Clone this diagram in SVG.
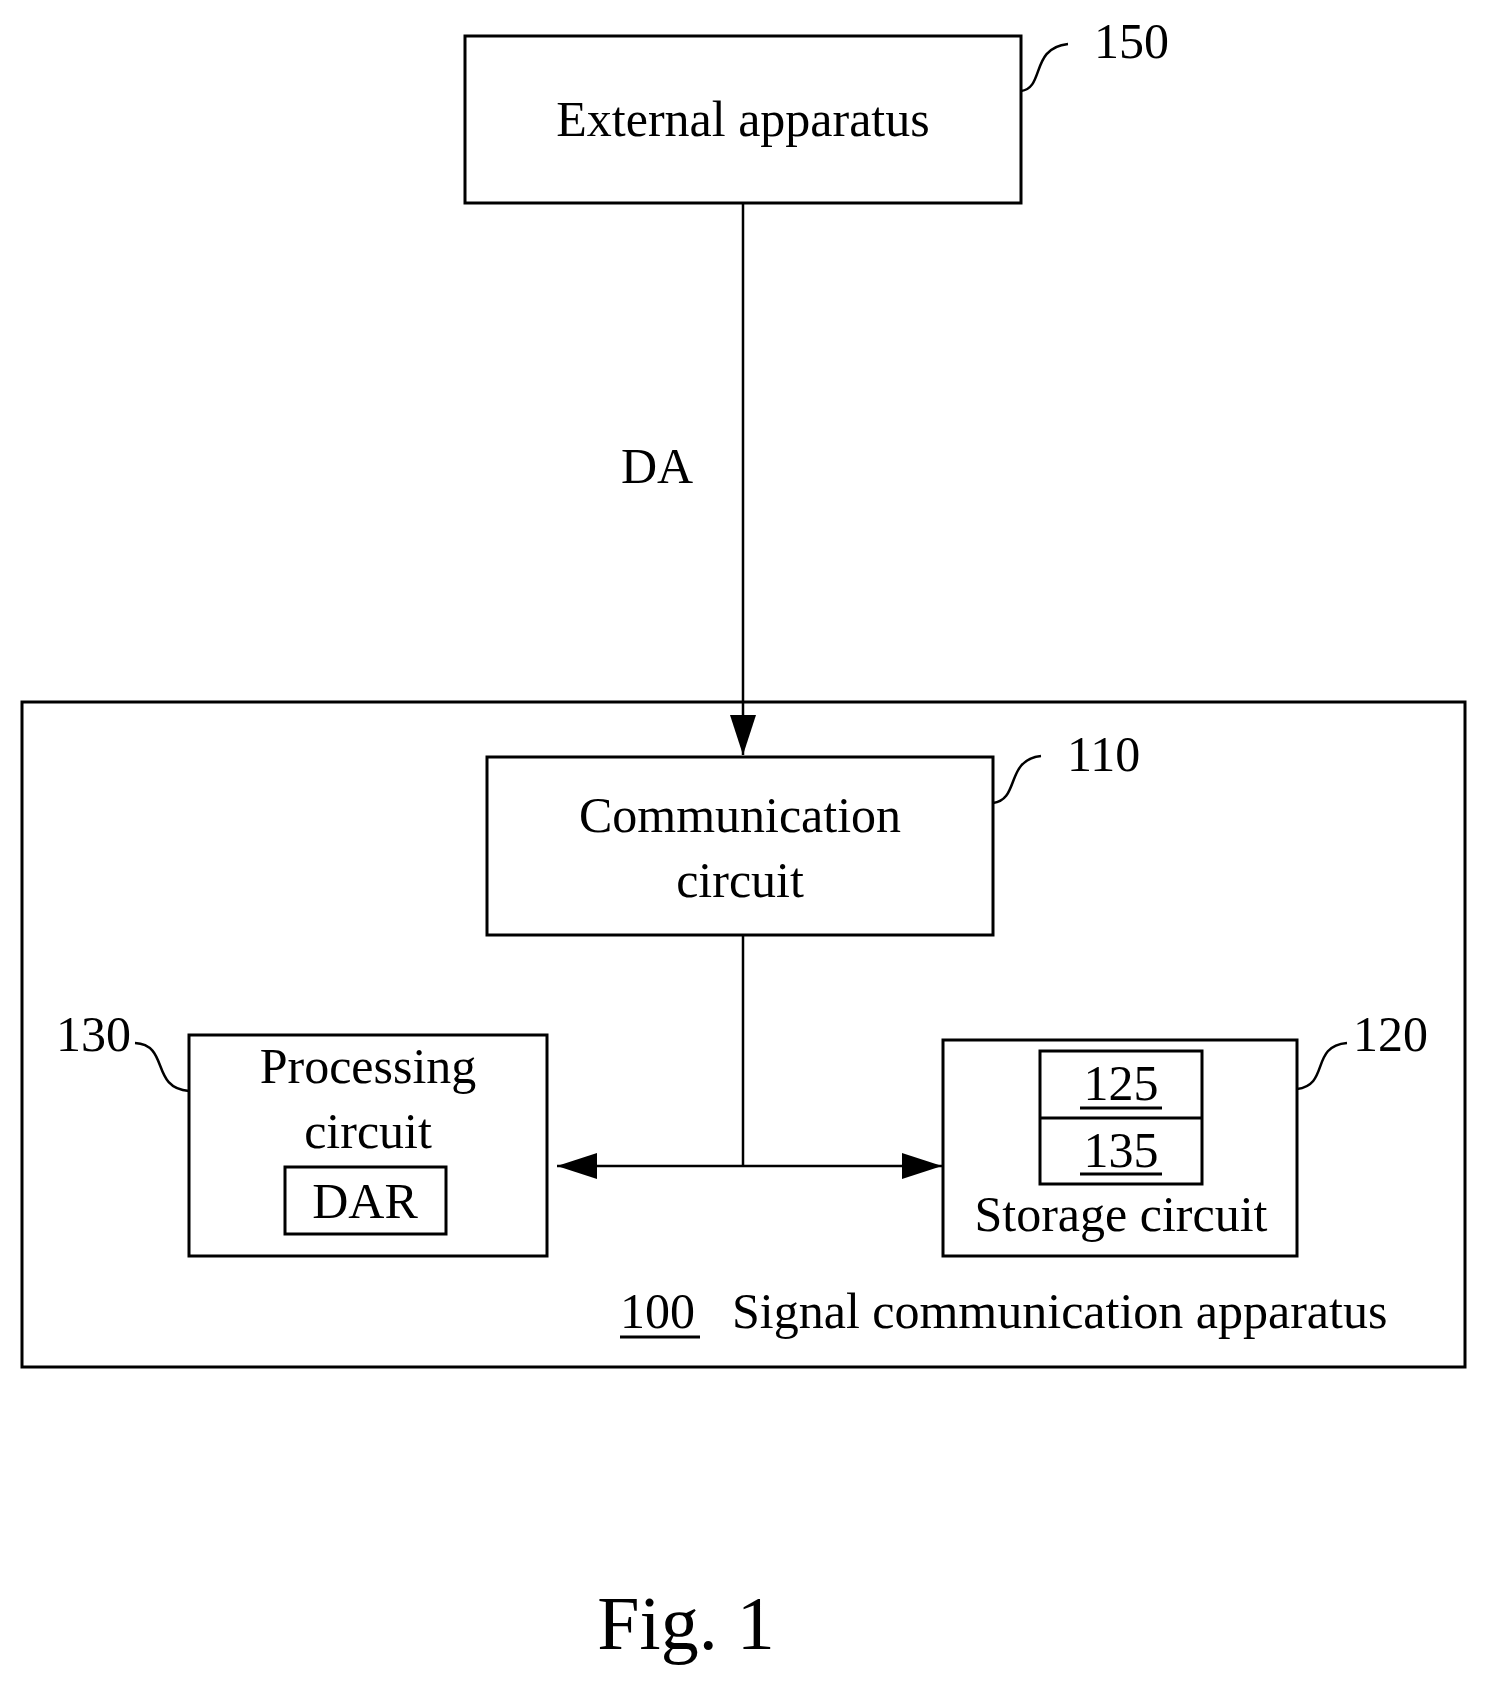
<svg xmlns="http://www.w3.org/2000/svg" width="1488" height="1692" viewBox="0 0 1488 1692">
<style>
text{font-family:"Liberation Serif","Times New Roman",serif;font-size:50px;fill:#000}
.c{text-anchor:middle}
.b{fill:none;stroke:#000;stroke-width:3}
.l{fill:none;stroke:#000;stroke-width:2.5}
</style>
<defs><marker id="a" viewBox="0 0 10 10" refX="10" refY="5" markerWidth="8" markerHeight="8" markerUnits="userSpaceOnUse" orient="auto"><path d="M0,0 L10,5 L0,10z" fill="#000"/></marker>
<marker id="ah" viewBox="0 0 10 10" refX="10" refY="5" markerWidth="40" markerHeight="26" markerUnits="userSpaceOnUse" orient="auto-start-reverse" preserveAspectRatio="none"><path d="M0,0 L10,5 L0,10z" fill="#000"/></marker></defs>
<rect width="1488" height="1692" fill="#fff"/>
<g id="n150"><rect class="b" x="465" y="36" width="556" height="167"/><text class="c" x="743" y="136">External apparatus</text>
<path class="l" d="M1021,91 C1045,88 1030,48 1068,44"/><text x="1094" y="58">150</text></g>
<g id="n100"><rect class="b" x="22" y="702" width="1443" height="665"/><text x="620" y="1328">100</text><line x1="620" y1="1337" x2="700" y2="1337" stroke="#000" stroke-width="3"/><text x="732" y="1328">Signal communication apparatus</text></g>
<g id="n110"><rect class="b" x="487" y="757" width="506" height="178"/><text class="c" x="740" y="832">Communication</text><text class="c" x="740" y="897">circuit</text>
<path class="l" d="M993,803 C1020,800 1005,760 1041,756"/><text x="1067" y="771">110</text></g>
<g id="n130"><rect class="b" x="189" y="1035" width="358" height="221"/><text class="c" x="368" y="1083">Processing</text><text class="c" x="368" y="1148">circuit</text>
<rect class="b" x="285" y="1167" width="161" height="67"/><text class="c" x="365" y="1218">DAR</text>
<path class="l" d="M135,1043 C170,1045 150,1088 189,1091"/><text x="56" y="1051">130</text></g>
<g id="n120"><rect class="b" x="943" y="1040" width="354" height="216"/><rect class="b" x="1040" y="1051" width="162" height="133"/><line class="b" x1="1040" y1="1118" x2="1202" y2="1118"/>
<text class="c" x="1121" y="1100">125</text><line x1="1080" y1="1108" x2="1162" y2="1108" stroke="#000" stroke-width="3"/>
<text class="c" x="1121" y="1167">135</text><line x1="1080" y1="1174" x2="1162" y2="1174" stroke="#000" stroke-width="3"/>
<text class="c" x="1121" y="1231">Storage circuit</text>
<path class="l" d="M1297,1089 C1330,1085 1310,1046 1347,1043"/><text x="1353" y="1051">120</text></g>
<g id="connectors">
<line class="l" x1="743" y1="203" x2="743" y2="755" marker-end="url(#ah)"/>
<line class="l" x1="743" y1="935" x2="743" y2="1166"/>
<line class="l" x1="557" y1="1166" x2="942" y2="1166" marker-start="url(#ah)" marker-end="url(#ah)"/>
</g>
<text x="621" y="483">DA</text>
<text class="c" x="686" y="1649" style="font-size:76px">Fig. 1</text>
</svg>
